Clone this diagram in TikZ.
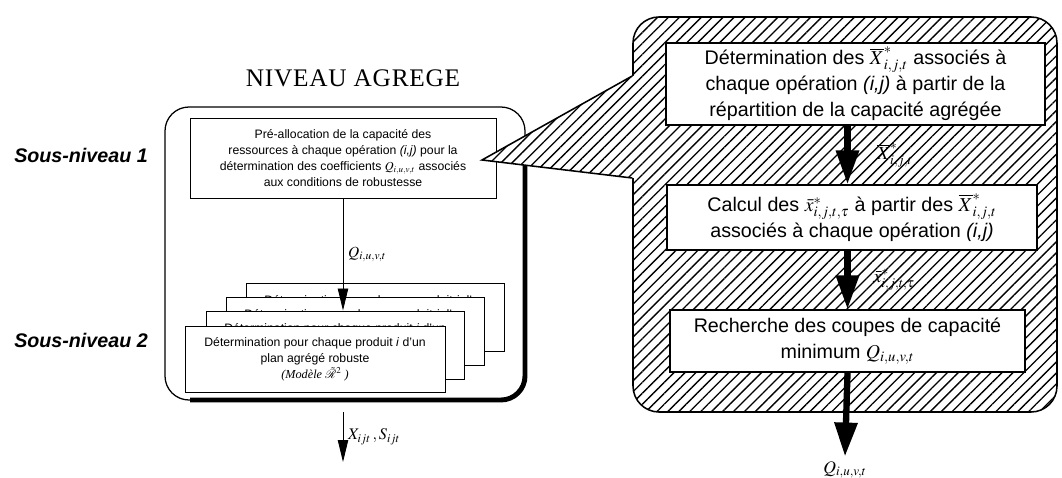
\documentclass[tikz,border=0pt]{standalone}
\usepackage{mathptmx}
\usepackage[no-math]{fontspec}
\setmainfont{Liberation Serif}
\setsansfont{Liberation Sans}
\usetikzlibrary{arrows.meta,patterns.meta}

\newcommand{\plantext}{Détermination pour chaque produit \textit{i} d'un\\plan agrégé robuste\\{\rmfamily\itshape (Modèle $\tilde{\mathcal{R}}^{2}$ )}}

\begin{document}
\begin{tikzpicture}[x=0.25mm,y=-0.25mm,
  box/.style={draw,fill=white,line width=0.7pt,align=center,inner sep=1pt,font=\sffamily\fontsize{8.7}{11.3}\selectfont},
  bigbox/.style={draw,fill=white,line width=0.9pt,align=center,inner sep=1pt,font=\sffamily\fontsize{14}{18.5}\selectfont},
  thinarrow/.style={line width=0.6pt,-{Triangle[width=2.6mm,length=5.5mm]}},
  bigarrow/.style={line width=4.5pt,-{Triangle[width=5.5mm,length=8.5mm]}},
  levellabel/.style={anchor=west,inner sep=0pt,font=\sffamily\bfseries\itshape\fontsize{14}{17}\selectfont},
  hatchfill/.style={fill=white,postaction={pattern={Lines[angle=45,distance=5.5pt,line width=0.95pt]}}}]
  \useasboundingbox (0,0) rectangle (1062,478);

  % niveau agrege
  \node (niveau) at (353,78) {\fontsize{18}{21}\selectfont\addfontfeature{LetterSpace=3}NIVEAU AGREGE};
  \node[levellabel] (sous1) at (14,155) {Sous-niveau 1};
  \node[levellabel] (sous2) at (14,340) {Sous-niveau 2};
  \node[draw,line width=0.9pt,rounded corners=6mm,minimum width=90mm,minimum height=73.25mm] (agg) at (345,253.5) {};
  \draw[line width=3.5pt,rounded corners=6mm] (525,165) -- (525,400) -- (190,400);

  \node[box,minimum width=76.5mm,minimum height=20mm] (alloc) at (343,158)
    {Pré-allocation de la capacité des\\ressources à chaque opération \textit{(i,j)} pour la\\détermination des coefficients $Q_{i,u,v,t}$ associés\\aux conditions de robustesse};

  \foreach \k in {3,2,1}
    \node[box,minimum width=64.5mm,minimum height=17mm] (plan\k) at (315+20*\k,359-14*\k) {\plantext};
  \node[box,minimum width=65mm,minimum height=16.5mm] (plan0) at (315,359) {\plantext};

  \draw[thinarrow] (alloc.south) -- (alloc.south |- plan1.north) node[midway,right,font=\fontsize{11}{13}\selectfont] {$Q_{i,u,v,t}$};
  \coordinate (aggtop) at (343,412);
  \coordinate (aggout) at (343,462);
  \draw[thinarrow] (aggtop) -- (aggout) node[midway,right,font=\fontsize{11.5}{13}\selectfont] {$X_{ijt}\,,S_{ijt}$};

  % zoom sur le sous-niveau 1
  \node[hatchfill,draw,line width=1.1pt,rounded corners=6.5mm,minimum width=106mm,minimum height=98.75mm] (zoombox) at (845,214.5) {};
  \fill[hatchfill] (482,160) -- (633,76) -- (638,76) -- (638,178) -- (633,178) -- cycle;
  \draw[line width=1.1pt] (zoombox.west |- 0,76) -- (482,160) -- (zoombox.west |- 0,178);

  \node[bigbox,minimum width=94.75mm,minimum height=20.5mm] (detX) at (855.5,84)
    {Détermination des $\overline{X}^{*}_{i,j,t}$ associés à\\chaque opération \textit{(i,j)} à partir de la\\répartition de la capacité agrégée};
  \node[bigbox,minimum width=92.5mm,minimum height=16.25mm] (calcx) at (852,217.5)
    {Calcul des $\bar{x}^{*}_{i,j,t,\tau}$ à partir des $\overline{X}^{*}_{i,j,t}$\\associés à chaque opération \textit{(i,j)}};
  \node[bigbox,minimum width=88.75mm,minimum height=15.5mm] (coupes) at (847.5,341)
    {Recherche des coupes de capacité\\minimum $Q_{i,u,v,t}$};
  \node[font=\fontsize{12.5}{15}\selectfont] (outQ) at (845,470) {$Q_{i,u,v,t}$};

  \draw[bigarrow] (detX.south -| coupes) -- (coupes |- calcx.north) node[midway,right=5.5mm,font=\fontsize{13}{15}\selectfont] {$\overline{X}^{*}_{i,j,t}$};
  \draw[bigarrow] (coupes |- calcx.south) -- (coupes.north) node[midway,right=4.5mm,font=\fontsize{13}{15}\selectfont] {$\bar{x}^{*}_{i,j,t,\tau}$};
  \draw[bigarrow] (coupes.south) -- (outQ.north);
\end{tikzpicture}
\end{document}
